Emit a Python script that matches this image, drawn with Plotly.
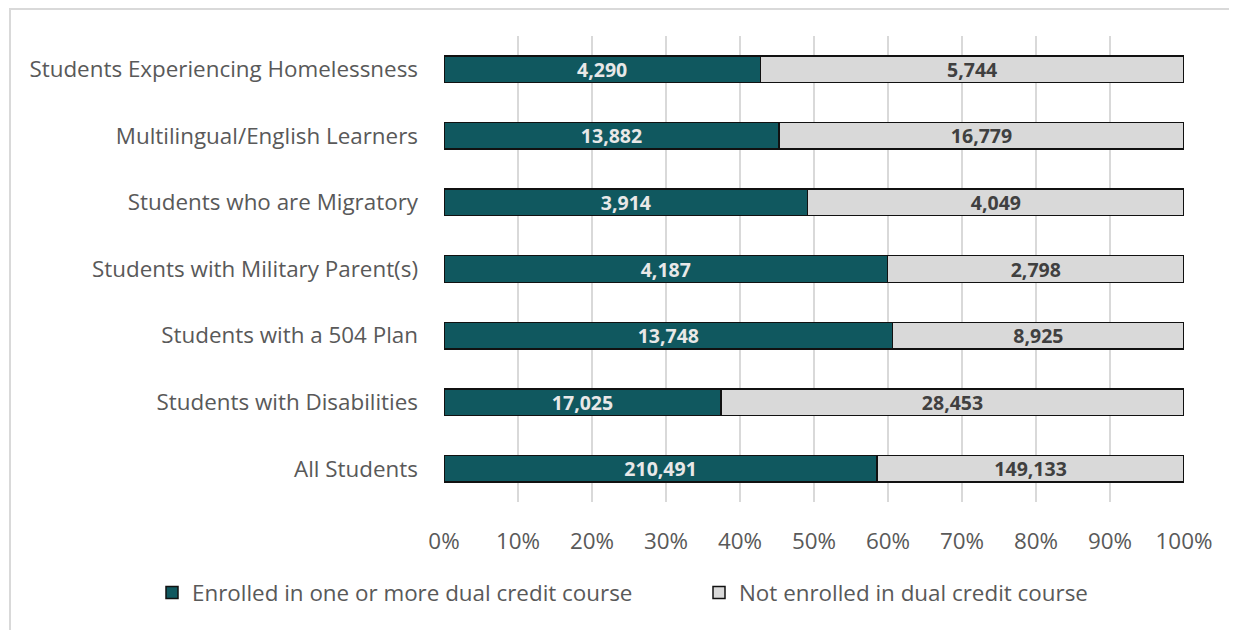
import plotly.graph_objects as go

categories = [
    "All Students",
    "Students with Disabilities",
    "Students with a 504 Plan",
    "Students with Military Parent(s)",
    "Students who are Migratory",
    "Multilingual/English Learners",
    "Students Experiencing Homelessness",
]
enrolled = [210491, 17025, 13748, 4187, 3914, 13882, 4290]
not_enrolled = [149133, 28453, 8925, 2798, 4049, 16779, 5744]
x_ticks = [0, 10, 20, 30, 40, 50, 60, 70, 80, 90, 100]

TEAL = "#10585f"
LIGHT = "#d9d9d9"
FONT = "Open Sans"
LABEL_SIZE = 22.4

# the page adds an 8px body margin, so the figure is placed at (8, 8)
W, H = 1237, 630
L, R, T, B = 436, 61, 28, 136
pw, ph = W - L - R, H - T - B

fig = go.Figure()
fig.add_trace(go.Bar(
    y=categories, x=enrolled, orientation="h",
    name="Enrolled in one or more dual credit course",
    marker=dict(color=TEAL, line=dict(color="#111111", width=1.5)),
    text=[f"{v:,}" for v in enrolled], textposition="inside",
    insidetextanchor="middle", constraintext="none", textangle=0,
    textfont=dict(family=FONT, size=19.5, color="#e8e8e8", weight="bold"),
    width=0.4, legend="legend",
))
fig.add_trace(go.Bar(
    y=categories, x=not_enrolled, orientation="h",
    name="Not enrolled in dual credit course",
    marker=dict(color=LIGHT, line=dict(color="#111111", width=1.5)),
    text=[f"{v:,}" for v in not_enrolled], textposition="inside",
    insidetextanchor="middle", constraintext="none", textangle=0,
    textfont=dict(family=FONT, size=19.5, color="#404040", weight="bold"),
    width=0.4, legend="legend2",
))

# outer chart border
fig.add_shape(
    type="rect", xref="paper", yref="paper",
    x0=(2 - L) / pw, x1=(1250 - L) / pw,
    y0=-(H + 20 - T - ph) / ph, y1=(H - 1 - B) / ph,
    line=dict(color="#d9d9d9", width=2), fillcolor="rgba(0,0,0,0)",
    layer="below",
)

legend_common = dict(
    orientation="h", xanchor="left", xref="container",
    y=-(585 - (H - B)) / ph, yanchor="middle", yref="paper",
    font=dict(size=LABEL_SIZE, color="#595959"),
)

fig.update_layout(
    width=W, height=H,
    margin=dict(l=L, r=R, t=T, b=B, autoexpand=False),
    barmode="stack", barnorm="percent",
    plot_bgcolor="white", paper_bgcolor="white",
    font=dict(family=FONT, size=LABEL_SIZE, color="#595959"),
    xaxis=dict(
        range=[0, 100], tickvals=x_ticks,
        ticktext=[f"{v}%" for v in x_ticks],
        showgrid=True, gridcolor="#d9d9d9", gridwidth=2,
        zeroline=False, showline=False, ticks="",
        ticklabelstandoff=24,
        tickfont=dict(size=LABEL_SIZE, color="#595959"),
    ),
    yaxis=dict(
        showgrid=False, zeroline=False, showline=False, ticks="",
        ticklabelstandoff=25,
        range=[-0.5, 6.5],
        tickfont=dict(size=LABEL_SIZE, color="#595959"),
    ),
    legend=dict(x=144 / W, **legend_common),
    legend2=dict(x=691 / W, **legend_common),
    showlegend=True,
)

fig.write_html("out.html")
